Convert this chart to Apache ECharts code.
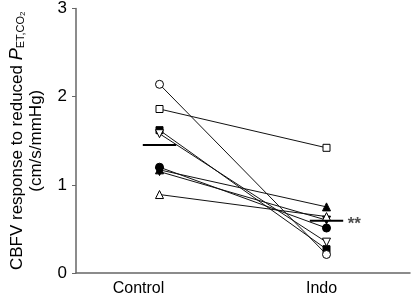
<!DOCTYPE html>
<html>
<head>
<meta charset="utf-8">
<script src="https://cdn.jsdelivr.net/npm/echarts@6/dist/echarts.min.js"></script>
<style>
  html, body { margin: 0; padding: 0; background: #fff; }
  #chart { width: 413px; height: 297px; }
</style>
</head>
<body>
<div id="chart"></div>
<script>
// x positions of the two conditions on a 0..4 value axis
const categories = ["Control", "Indo"];
const conditionX = [1, 3];
const yTicks = [0, 1, 2, 3];

// one entry per subject (cm/s/mmHg)
const controlValues = [2.14, 1.86, 1.62, 1.58, 1.2, 1.17, 1.15, 0.89];
const indoValues = [0.21, 1.42, 0.27, 0.35, 0.51, 0.75, 0.6, 0.64];

// marker for each subject: [shape, filled]
const markers = [
  ["circle", false],
  ["rect", false],
  ["rect", true],
  ["downTriangle", false],
  ["circle", true],
  ["triangle", true],
  ["downTriangle", true],
  ["triangle", false],
];

const mean = (arr) => arr.reduce((a, b) => a + b, 0) / arr.length;
const controlMean = mean(controlValues);
const indoMean = mean(indoValues);

const chart = echarts.init(document.getElementById("chart"), undefined, {
  renderer: "canvas",
});

const axisColor = "#666";
const font = "Liberation Sans, Arial, sans-serif";

const subjectSeries = controlValues.map((c, i) => {
  const [shape, filled] = markers[i];
  const isDown = shape === "downTriangle";
  return {
    type: "line",
    data: [
      [conditionX[0], c],
      [conditionX[1], indoValues[i]],
    ],
    symbol: isDown ? "triangle" : shape,
    symbolRotate: isDown ? 180 : 0,
    symbolSize: shape === "rect" ? 7 : 8,
    showSymbol: true,
    lineStyle: { color: "#111", width: 1 },
    itemStyle: {
      color: filled ? "#000" : "#fff",
      borderColor: "#000",
      borderWidth: 1,
    },
    z: filled ? 3 : 4,
    silent: true,
  };
});

const meanSeries = [
  {
    type: "line",
    data: [
      [conditionX[0] - 0.2, controlMean],
      [conditionX[0] + 0.2, controlMean],
    ],
    symbol: "none",
    lineStyle: { color: "#000", width: 2 },
    z: 5,
  },
  {
    type: "line",
    data: [
      [conditionX[1] - 0.2, indoMean],
      [conditionX[1] + 0.2, indoMean],
    ],
    symbol: "none",
    lineStyle: { color: "#000", width: 2 },
    z: 5,
  },
  {
    // significance mark at the end of the Indo mean line
    type: "scatter",
    data: [[conditionX[1] + 0.2, indoMean]],
    symbolSize: 1,
    itemStyle: { color: "transparent" },
    label: {
      show: true,
      position: "right",
      distance: 4,
      formatter: "**",
      fontSize: 17,
      fontWeight: "bold",
      fontFamily: font,
      color: "#222",
      offset: [0, 4],
    },
    silent: true,
  },
];

chart.setOption({
  animation: false,
  backgroundColor: "#fff",
  grid: { left: 62, right: 0, top: 6, bottom: 22, containLabel: false },
  xAxis: {
    type: "value",
    min: 0,
    max: 4,
    interval: 1,
    splitLine: { show: false },
    axisTick: { show: false },
    axisLine: { lineStyle: { color: axisColor, width: 1.5 } },
    axisLabel: {
      margin: 8,
      fontSize: 16,
      fontFamily: font,
      color: "#000",
      formatter: (v) => {
        const idx = conditionX.indexOf(v);
        if (idx === 0) return "{c|" + categories[0] + "}";
        if (idx === 1) return "{d|" + categories[1] + "}";
        return "";
      },
      rich: {
        c: { fontSize: 16, fontFamily: font, color: "#000", padding: [0, 42, 0, 0] },
        d: { fontSize: 16, fontFamily: font, color: "#000", padding: [0, 10, 0, 0] },
      },
    },
  },
  yAxis: {
    type: "value",
    min: yTicks[0],
    max: yTicks[yTicks.length - 1],
    interval: 1,
    splitLine: { show: false },
    axisLine: { show: true, lineStyle: { color: axisColor, width: 1.5 } },
    axisTick: { show: true, length: 4, lineStyle: { color: axisColor } },
    axisLabel: {
      margin: 9,
      fontSize: 17,
      fontFamily: font,
      color: "#000",
    },
    name:
      "{a|CBFV response to reduced }{i|P}{s|ET,CO}{t|2}\n{a|(cm/s/mmHg)}",
    nameLocation: "middle",
    nameGap: 30,
    nameTextStyle: {
      fontFamily: font,
      color: "#000",
      rich: {
        a: { fontSize: 17, fontFamily: font, color: "#000", lineHeight: 19 },
        i: { fontSize: 18, fontFamily: font, fontStyle: "italic", color: "#000" },
        s: { fontSize: 11, fontFamily: font, color: "#000", padding: [7, 0, 0, 0] },
        t: { fontSize: 8, fontFamily: font, color: "#000", padding: [12, 0, 0, 0] },
      },
    },
  },
  series: [...subjectSeries, ...meanSeries],
});
</script>
</body>
</html>
